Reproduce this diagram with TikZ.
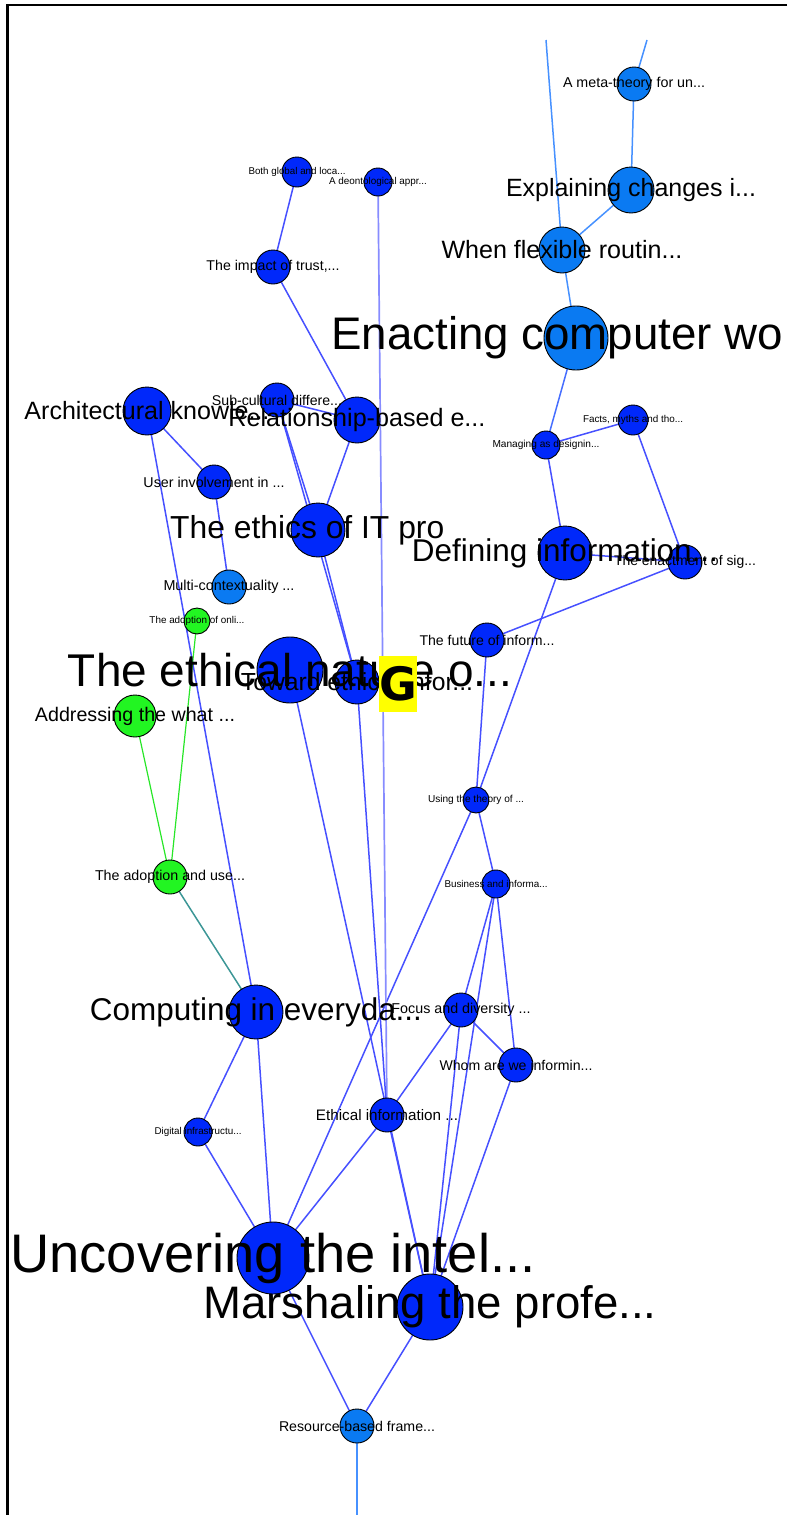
\documentclass[tikz,border=0pt]{standalone}
\usepackage{fontspec}
\setmainfont{Liberation Sans}
\newfontfamily\markfont{DejaVu Sans}
\usepackage{graphicx}

\definecolor{dkblue}{RGB}{0,40,250}
\definecolor{ltblue}{RGB}{10,122,242}
\definecolor{ndgreen}{RGB}{34,245,34}
\definecolor{edgeblue}{RGB}{70,80,255}
\definecolor{edgelight}{RGB}{70,145,255}
\definecolor{edgemid}{RGB}{70,110,255}
\definecolor{edgepale}{RGB}{135,140,255}
\definecolor{edgegreen}{RGB}{40,230,40}
\definecolor{edgeteal}{RGB}{60,150,150}
\definecolor{markyellow}{RGB}{255,255,0}

\pgfdeclarelayer{edges}
\pgfdeclarelayer{labels}
\pgfsetlayers{edges,main,labels}

\tikzset{
  vtx/.style={circle, draw=black, line width=0.9pt, inner sep=0pt, minimum size=#1},
  dk/.style={vtx=#1, fill=dkblue},
  lt/.style={vtx=#1, fill=ltblue},
  gr/.style={vtx=#1, fill=ndgreen},
  lbl/.style={inner sep=0pt, text=black},
  link/.style={draw=edgeblue, line width=1.5pt},
  linklight/.style={draw=edgelight, line width=1.5pt},
  linkmid/.style={draw=edgemid, line width=1.5pt},
  linkpale/.style={draw=edgepale, line width=1.7pt},
  linkgreen/.style={draw=edgegreen, line width=1.2pt},
  linkteal/.style={draw=edgeteal, line width=1.5pt},
  frameline/.style={draw=black, line width=2.4pt},
  gmark/.style={fill=markyellow, inner sep=0pt, minimum width=38pt, minimum height=56pt,
    font=\markfont\bfseries\fontsize{46}{46}\selectfont, text=black},
}

% label of a vertex, scaled to a given printed width
\newcommand{\lab}[3]{\node[lbl] (#1-l) at (#1) {\resizebox{#2pt}{!}{#3}};}

\begin{document}
\begin{tikzpicture}[x=1pt,y=-1pt]
\useasboundingbox (0,0) rectangle (787,1515);

% frame
\coordinate (fTL) at (7.5,5);
\coordinate (fTR) at (787,5);
\coordinate (fBL) at (7.5,1515);
\draw[frameline] (fTR) -- (fTL) -- (fBL);

% vertices
\node[lt=34] (meta) at (634,84) {};
\node[lt=46] (expl) at (631,190) {};
\node[lt=46] (flex) at (562,250) {};
\node[lt=64] (enact) at (576,338) {};
\node[dk=30] (both) at (297,172) {};
\node[dk=28] (deon) at (378,182) {};
\node[dk=34] (trust) at (273,267) {};
\node[dk=34] (subc) at (277,400) {};
\node[dk=46] (rel) at (357,420) {};
\node[dk=48] (arch) at (147,411) {};
\node[dk=34] (user) at (214,482) {};
\node[dk=54] (ethit) at (318,530) {};
\node[lt=34] (multi) at (229,587) {};
\node[gr=26] (onli) at (197,621) {};
\node[dk=66] (nature) at (290,670) {};
\node[dk=44] (toward) at (357,682) {};
\node[gr=42] (addr) at (135,716) {};
\node[dk=34] (future) at (487,640) {};
\node[dk=28] (manag) at (546,445) {};
\node[dk=30] (facts) at (633,420) {};
\node[dk=54] (defin) at (565,553) {};
\node[dk=34] (enactsig) at (685,562) {};
\node[dk=26] (theory) at (476,800) {};
\node[dk=28] (busin) at (496,884) {};
\node[gr=34] (adopt) at (170,877) {};
\node[dk=54] (comp) at (256,1012) {};
\node[dk=34] (focus) at (461,1010) {};
\node[dk=34] (whom) at (516,1065) {};
\node[dk=34] (ethinf) at (387,1115) {};
\node[dk=28] (digit) at (198,1132) {};
\node[dk=72] (uncov) at (273,1258) {};
\node[dk=66] (marsh) at (430,1307) {};
\node[lt=34] (resrc) at (357,1426) {};

% loose ends leaving the drawing area
\coordinate (topA) at (546,40);
\coordinate (topB) at (647,40);
\coordinate (botA) at (357,1515);

% connectors, drawn beneath the vertices
\begin{pgfonlayer}{edges}
\draw[linklight] (topA) -- (flex.center);
\draw[linklight] (topB) -- (meta.center);
\draw[linklight] (meta.center) -- (expl.center);
\draw[linklight] (expl.center) -- (flex.center);
\draw[linklight] (flex.center) -- (enact.center);
\draw[linkmid] (enact.center) -- (manag.center);
\draw[link] (manag.center) -- (facts.center);
\draw[link] (manag.center) -- (defin.center);
\draw[link] (facts.center) -- (enactsig.center);
\draw[link] (enactsig.center) -- (future.center);
\draw[link] (defin.center) -- (enactsig.center);
\draw[link] (defin.center) -- (theory.center);
\draw[link] (future.center) -- (theory.center);
\draw[link] (theory.center) -- (busin.center);
\draw[link] (theory.center) -- (uncov.center);
\draw[link] (busin.center) -- (focus.center);
\draw[link] (busin.center) -- (whom.center);
\draw[link] (busin.center) -- (marsh.center);
\draw[link] (focus.center) -- (whom.center);
\draw[link] (focus.center) -- (ethinf.center);
\draw[link] (focus.center) -- (marsh.center);
\draw[link] (whom.center) -- (marsh.center);
\draw[link] (ethinf.center) -- (uncov.center);
\draw[link] (ethinf.center) -- (marsh.center);
\draw[linkpale] (deon.center) -- (ethinf.center);
\draw[link] (toward.center) -- (ethinf.center);
\draw[link] (nature.center) -- (marsh.center);
\draw[link] (subc.center) -- (toward.center);
\draw[link] (subc.center) -- (ethit.center);
\draw[link] (ethit.center) -- (toward.center);
\draw[link] (rel.center) -- (ethit.center);
\draw[link] (subc.center) -- (rel.center);
\draw[link] (trust.center) -- (rel.center);
\draw[link] (both.center) -- (trust.center);
\draw[link] (arch.center) -- (user.center);
\draw[link] (arch.center) -- (comp.center);
\draw[link] (user.center) -- (multi.center);
\draw[linkgreen] (onli.center) -- (adopt.center);
\draw[linkgreen] (addr.center) -- (adopt.center);
\draw[linkteal] (adopt.center) -- (comp.center);
\draw[link] (comp.center) -- (digit.center);
\draw[link] (comp.center) -- (uncov.center);
\draw[link] (digit.center) -- (uncov.center);
\draw[link] (uncov.center) -- (resrc.center);
\draw[link] (marsh.center) -- (resrc.center);
\draw[linklight] (resrc.center) -- (botA);
\end{pgfonlayer}

% labels, drawn over every vertex
\begin{pgfonlayer}{labels}
\lab{meta}{142}{A meta-theory for un...}
\lab{expl}{250}{Explaining changes i...}
\lab{flex}{241}{When flexible routin...}
\node[lbl, anchor=west] (enact-l) at ([xshift=-245pt]enact.center) {\resizebox{452pt}{!}{Enacting computer wo}};
\lab{both}{97}{Both global and loca...}
\lab{deon}{98}{A deontological appr...}
\lab{trust}{133}{The impact of trust,...}
\lab{arch}{245}{Architectural knowle...}
\lab{subc}{130}{Sub-cultural differe...}
\lab{rel}{257}{Relationship-based e...}
\lab{user}{141}{User involvement in ...}
\node[lbl, anchor=west] (ethit-l) at ([xshift=-148pt]ethit.center) {\resizebox{274pt}{!}{The ethics of IT pro}};
\lab{multi}{131}{Multi-contextuality ...}
\lab{onli}{95}{The adoption of onli...}
\lab{nature}{444}{The ethical nature o...}
\lab{toward}{232}{Toward ethical infor...}
\lab{addr}{200}{Addressing the what ...}
\lab{future}{135}{The future of inform...}
\lab{manag}{107}{Managing as designin...}
\lab{facts}{100}{Facts, myths and tho...}
\lab{defin}{306}{Defining information...}
\lab{enactsig}{142}{The enactment of sig...}
\lab{theory}{96}{Using the theory of ...}
\lab{busin}{103}{Business and informa...}
\lab{adopt}{150}{The adoption and use...}
\lab{comp}{332}{Computing in everyda...}
\lab{focus}{139}{Focus and diversity ...}
\lab{whom}{153}{Whom are we informin...}
\lab{ethinf}{142}{Ethical information ...}
\lab{digit}{87}{Digital infrastructu...}
\lab{uncov}{525}{Uncovering the intel...}
\lab{marsh}{453}{Marshaling the profe...}
\lab{resrc}{156}{Resource-based frame...}
\node[gmark] (gbox) at (398,684) {G};
\end{pgfonlayer}
\end{tikzpicture}
\end{document}
